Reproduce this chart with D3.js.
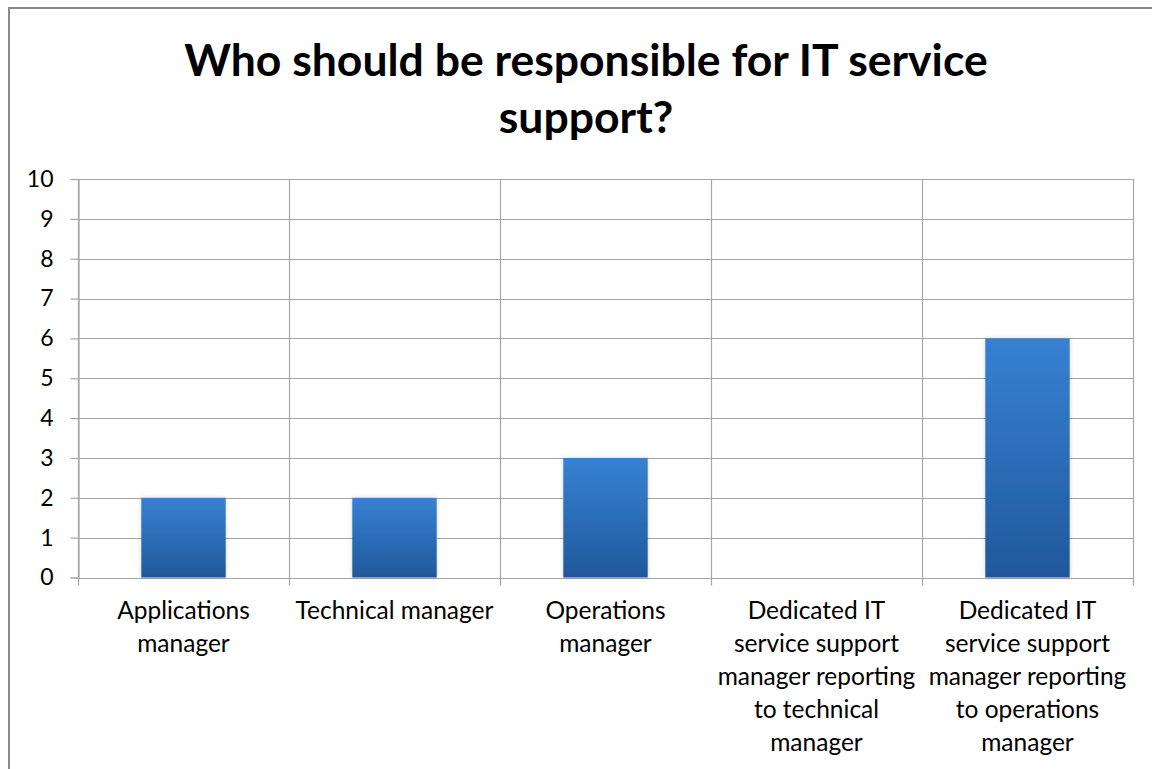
<!DOCTYPE html>
<html>
<head>
<meta charset="utf-8">
<script src="https://cdn.jsdelivr.net/npm/d3@7"></script>
<style>
  html, body { margin: 0; padding: 0; background: #fff; }
  svg { display: block; }
</style>
</head>
<body>
<svg id="chart" width="1152" height="769"></svg>
<script>
// Survey answers: number of respondents per option
const titleLines = ["Who should be responsible for IT service", "support?"];
const categories = [
  "Applications manager",
  "Technical manager",
  "Operations manager",
  "Dedicated IT service support manager reporting to technical manager",
  "Dedicated IT service support manager reporting to operations manager"
];
// Wrapped label lines for each category
const categoryLines = [
  ["Applications", "manager"],
  ["Technical manager"],
  ["Operations", "manager"],
  ["Dedicated IT", "service support", "manager reporting", "to technical", "manager"],
  ["Dedicated IT", "service support", "manager reporting", "to operations", "manager"]
];
const values = [2, 2, 3, 0, 6];
const yTicks = [0, 1, 2, 3, 4, 5, 6, 7, 8, 9, 10];

const svg = d3.select("#chart");
const font = "Lato, 'Open Sans', sans-serif";

// Outer chart frame (runs past the right and bottom edges)
svg.append("rect")
  .attr("x", 9).attr("y", 8)
  .attr("width", 1160).attr("height", 800)
  .attr("fill", "#fff")
  .attr("stroke", "#8a8a8a")
  .attr("stroke-width", 2);

const plot = { left: 78, right: 1133, top: 179, bottom: 577.5 };

const x = d3.scaleBand()
  .domain(categories)
  .range([plot.left, plot.right])
  .paddingInner(0).paddingOuter(0);

const y = d3.scaleLinear()
  .domain([0, 10])
  .range([plot.bottom, plot.top]);

// Gradient fill for the columns
const defs = svg.append("defs");
const grad = defs.append("linearGradient")
  .attr("id", "barGrad")
  .attr("x1", 0).attr("y1", 0).attr("x2", 0).attr("y2", 1);
grad.append("stop").attr("offset", "0%").attr("stop-color", "#3781d1");
grad.append("stop").attr("offset", "50%").attr("stop-color", "#2b6db8");
grad.append("stop").attr("offset", "100%").attr("stop-color", "#21589a");

const shadow = defs.append("filter").attr("id", "barShadow")
  .attr("x", "-20%").attr("y", "-5%").attr("width", "140%").attr("height", "110%");
shadow.append("feDropShadow")
  .attr("dx", 0).attr("dy", 0).attr("stdDeviation", 2)
  .attr("flood-color", "#000").attr("flood-opacity", 0.18);

const gridColor = "#a6a6a6";

// Horizontal gridlines
svg.append("g")
  .selectAll("line")
  .data(yTicks)
  .join("line")
  .attr("x1", plot.left).attr("x2", plot.right)
  .attr("y1", d => Math.round(y(d)) + 0.5)
  .attr("y2", d => Math.round(y(d)) + 0.5)
  .attr("stroke", gridColor).attr("stroke-width", 1.2);

// Vertical gridlines at category boundaries
const boundaries = categories.map(c => x(c)).concat([plot.right]);
svg.append("g")
  .selectAll("line")
  .data(boundaries)
  .join("line")
  .attr("x1", d => Math.round(d) + 0.5).attr("x2", d => Math.round(d) + 0.5)
  .attr("y1", plot.top).attr("y2", plot.bottom + 8)
  .attr("stroke", gridColor).attr("stroke-width", 1.2);

// Y axis with left tick marks
const yAxis = d3.axisLeft(y)
  .tickValues(yTicks)
  .tickSize(8)
  .tickPadding(17)
  .tickFormat(d3.format("d"));

const yg = svg.append("g")
  .attr("transform", `translate(${plot.left + 0.5},0)`)
  .call(yAxis);
yg.select(".domain").attr("stroke", gridColor).attr("stroke-width", 1.2);
yg.selectAll(".tick line").attr("stroke", gridColor).attr("stroke-width", 1.2);
yg.selectAll(".tick text")
  .attr("font-family", font)
  .attr("font-size", 23)
  .attr("fill", "#000");

// Columns
const bw = x.bandwidth() * 0.4;
svg.append("g")
  .selectAll("rect")
  .data(values.map((v, i) => ({ c: categories[i], v })))
  .join("rect")
  .filter(d => d.v > 0)
  .attr("x", d => x(d.c) + (x.bandwidth() - bw) / 2)
  .attr("y", d => y(d.v))
  .attr("width", bw)
  .attr("height", d => y(0) - y(d.v))
  .attr("fill", "url(#barGrad)")
  .attr("filter", "url(#barShadow)");

// Category labels
const labelG = svg.append("g")
  .attr("font-family", font)
  .attr("font-size", 24.5)
  .attr("fill", "#000")
  .attr("text-anchor", "middle");
categories.forEach((c, i) => {
  const t = labelG.append("text")
    .attr("x", x(c) + x.bandwidth() / 2)
    .attr("y", 619);
  categoryLines[i].forEach((line, j) => {
    t.append("tspan")
      .attr("x", x(c) + x.bandwidth() / 2)
      .attr("dy", j === 0 ? 0 : 33)
      .text(line);
  });
});

// Title
const titleG = svg.append("g")
  .attr("font-family", font)
  .attr("font-weight", "bold")
  .attr("font-size", 44.5)
  .attr("fill", "#000")
  .attr("text-anchor", "middle");
titleLines.forEach((line, i) => {
  titleG.append("text")
    .attr("x", 586)
    .attr("y", 76 + i * 57)
    .text(line);
});
</script>
</body>
</html>
